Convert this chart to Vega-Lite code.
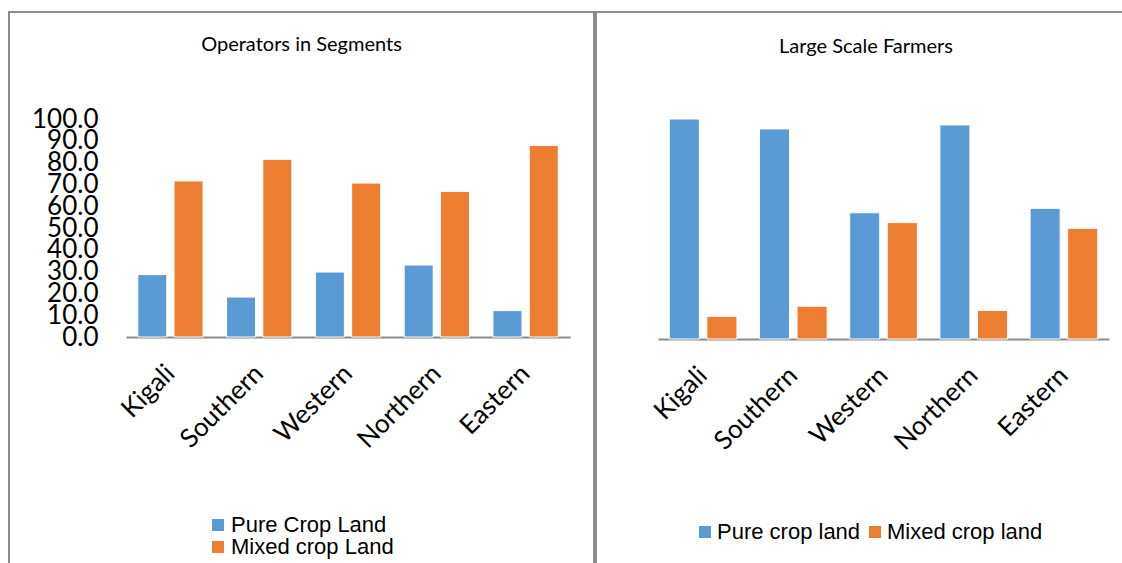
{
  "$schema": "https://vega.github.io/schema/vega-lite/v6.json",
  "padding": {"left": 8, "top": 11, "right": 0, "bottom": 0},
  "background": "white",
  "datasets": {
    "ops": [
      {"region": "Kigali", "type": "Pure Crop Land", "value": 28.6},
      {"region": "Kigali", "type": "Mixed crop Land", "value": 71.6},
      {"region": "Southern", "type": "Pure Crop Land", "value": 18.3},
      {"region": "Southern", "type": "Mixed crop Land", "value": 81.5},
      {"region": "Western", "type": "Pure Crop Land", "value": 29.8},
      {"region": "Western", "type": "Mixed crop Land", "value": 70.6},
      {"region": "Northern", "type": "Pure Crop Land", "value": 33.0},
      {"region": "Northern", "type": "Mixed crop Land", "value": 66.8},
      {"region": "Eastern", "type": "Pure Crop Land", "value": 12.1},
      {"region": "Eastern", "type": "Mixed crop Land", "value": 87.9}
    ],
    "lsf": [
      {"region": "Kigali", "type": "Pure crop land", "value": 100.0},
      {"region": "Kigali", "type": "Mixed crop land", "value": 10.3},
      {"region": "Southern", "type": "Pure crop land", "value": 95.5},
      {"region": "Southern", "type": "Mixed crop land", "value": 14.9},
      {"region": "Western", "type": "Pure crop land", "value": 57.4},
      {"region": "Western", "type": "Mixed crop land", "value": 52.9},
      {"region": "Northern", "type": "Pure crop land", "value": 97.3},
      {"region": "Northern", "type": "Mixed crop land", "value": 13.0},
      {"region": "Eastern", "type": "Pure crop land", "value": 59.4},
      {"region": "Eastern", "type": "Mixed crop land", "value": 50.3}
    ]
  },
  "spacing": 0,
  "hconcat": [
    {
      "data": {"name": "ops"},
      "width": 585,
      "height": 560,
      "title": {"text": "Operators in Segments", "offset": -59, "frame": "group", "anchor": "middle", "baseline": "alphabetic", "font": "Lato", "fontSize": 20, "fontWeight": "normal", "color": "#000000"},
      "mark": {"type": "bar", "stroke": "white", "strokeWidth": 1},
      "encoding": {
        "x": {
          "field": "region", "type": "nominal",
          "sort": ["Kigali", "Southern", "Western", "Northern", "Eastern"],
          "scale": {"range": [117, 561], "paddingInner": 0.265, "paddingOuter": 0.1325},
          "axis": {"title": null, "orient": "bottom", "offset": -235, "labelAngle": -45, "labelAlign": "right", "labelBaseline": "middle", "labelPadding": 32, "ticks": false, "tickSize": 0, "domainColor": "#8c8c8c", "domainWidth": 2, "labelFont": "Lato", "labelFontSize": 26, "labelColor": "#000000", "grid": false}
        },
        "xOffset": {"field": "type", "type": "nominal", "sort": ["Pure Crop Land", "Mixed crop Land"], "scale": {"paddingInner": 0.2}},
        "y": {
          "field": "value", "type": "quantitative",
          "scale": {"domain": [0, 100], "range": [325, 107], "nice": false, "zero": true},
          "axis": {"title": null, "orient": "left", "offset": -89, "values": [0, 10, 20, 30, 40, 50, 60, 70, 80, 90, 100], "format": ".1f", "labelOverlap": false, "labelFlush": false, "labelPadding": 0, "ticks": false, "tickSize": 0, "domain": false, "grid": false, "labelFont": "Lato", "labelFontSize": 26, "labelColor": "#000000", "labelBaseline": "middle"}
        },
        "color": {
          "field": "type", "type": "nominal",
          "scale": {"domain": ["Pure Crop Land", "Mixed crop Land"], "range": ["#5B9BD5", "#ED7D31"]},
          "legend": {"title": null, "orient": "none", "direction": "vertical", "legendX": 198, "legendY": 502, "padding": 0, "symbolType": "square", "symbolSize": 144, "symbolStrokeWidth": 0, "labelFont": "Liberation Sans", "labelFontSize": 22, "labelColor": "#000000", "labelOffset": 2, "rowPadding": -8, "labelLimit": 400}
        }
      }
    },
    {
      "data": {"name": "lsf"},
      "width": 540,
      "height": 560,
      "title": {"text": "Large Scale Farmers", "offset": -61, "frame": "group", "anchor": "middle", "baseline": "alphabetic", "font": "Lato", "fontSize": 20, "fontWeight": "normal", "color": "#000000"},
      "mark": {"type": "bar", "stroke": "white", "strokeWidth": 1},
      "encoding": {
        "x": {
          "field": "region", "type": "nominal",
          "sort": ["Kigali", "Southern", "Western", "Northern", "Eastern"],
          "scale": {"range": [62, 513], "paddingInner": 0.25, "paddingOuter": 0.125},
          "axis": {"title": null, "orient": "bottom", "offset": -233, "labelAngle": -45, "labelAlign": "right", "labelBaseline": "middle", "labelPadding": 32, "ticks": false, "tickSize": 0, "domainColor": "#8c8c8c", "domainWidth": 2, "labelFont": "Lato", "labelFontSize": 26, "labelColor": "#000000", "grid": false}
        },
        "xOffset": {"field": "type", "type": "nominal", "sort": ["Pure crop land", "Mixed crop land"], "scale": {"paddingInner": 0.2}},
        "y": {
          "field": "value", "type": "quantitative",
          "scale": {"domain": [0, 100], "range": [327, 107], "nice": false, "zero": true},
          "axis": null
        },
        "color": {
          "field": "type", "type": "nominal",
          "scale": {"domain": ["Pure crop land", "Mixed crop land"], "range": ["#5B9BD5", "#ED7D31"]},
          "legend": {"title": null, "orient": "none", "direction": "horizontal", "legendX": 98, "legendY": 509, "padding": 0, "symbolType": "square", "symbolSize": 144, "symbolStrokeWidth": 0, "labelFont": "Liberation Sans", "labelFontSize": 22, "labelColor": "#000000", "labelOffset": 1, "columnPadding": 3, "gridAlign": "none", "labelLimit": 400}
        }
      }
    }
  ],
  "resolve": {
    "scale": {"x": "independent", "y": "independent", "xOffset": "independent", "color": "independent"},
    "legend": {"color": "independent"}
  },
  "config": {
    "view": {"stroke": "#8c8c8c", "strokeWidth": 2}
  }
}
